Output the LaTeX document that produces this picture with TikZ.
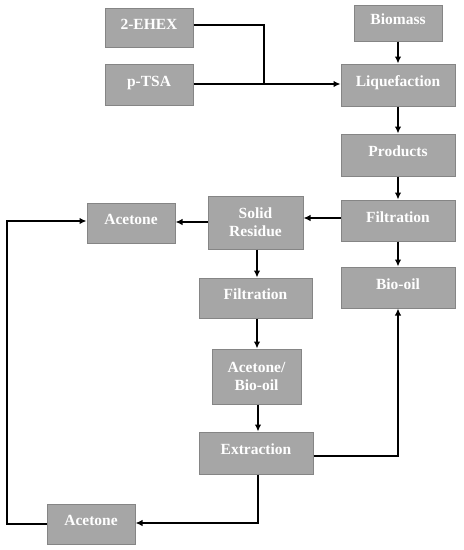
\documentclass[tikz,border=0pt]{standalone}
\usepackage{fontspec}
\setmainfont{Liberation Serif}
\usetikzlibrary{arrows.meta}
\definecolor{boxfill}{HTML}{A6A6A6}
\definecolor{boxline}{HTML}{858585}
\begin{document}
\begin{tikzpicture}[x=1pt,y=-1pt,
  box/.style={draw=boxline,fill=boxfill,line width=1pt,text=white,font=\bfseries\fontsize{15.5}{18}\selectfont,align=center,inner sep=0pt},
  one/.style={box,text height=10pt,text depth=7pt},
  conn/.style={line width=1.4pt,black},
  arr/.style={conn,-{Latex[length=7pt,width=6.5pt]}}]
\useasboundingbox (0,0) rectangle (464,550);
\node[one,minimum width=88,minimum height=39] (ehex) at (149,28) {2-EHEX};
\node[one,minimum width=88,minimum height=41] (ptsa) at (149,84.5) {p-TSA};
\node[one,minimum width=88,minimum height=36] (bio) at (398,23) {Biomass};
\node[one,minimum width=114,minimum height=42] (liq) at (398,85) {Liquefaction};
\node[one,minimum width=114,minimum height=42] (prod) at (398,155) {Products};
\node[one,minimum width=114,minimum height=41] (filtr) at (398,220.5) {Filtration};
\node[one,minimum width=114,minimum height=41] (biooil) at (398,287.5) {Bio-oil};
\node[box,minimum width=95,minimum height=53] (solid) at (255.5,222.5) {Solid\\Residue};
\node[one,minimum width=88,minimum height=40] (acet1) at (131,223) {Acetone};
\node[one,minimum width=113,minimum height=40] (filtm) at (255.5,298) {Filtration};
\node[box,minimum width=89,minimum height=55] (abo) at (256.5,376.5) {Acetone/\\Bio-oil};
\node[one,minimum width=114,minimum height=42] (ext) at (256,453) {Extraction};
\node[one,minimum width=88,minimum height=40] (acet2) at (91,524) {Acetone};
\coordinate (j) at (264,84);
\coordinate (l1) at (7,524);
\coordinate (l2) at (7,221);
\coordinate (e1) at (398,456);
\coordinate (e2) at (258,523);
\draw[conn] (ehex.east |- 0,25) -| (j);
\draw[arr] (ptsa.east |- j) -- (liq.west |- j);
\draw[arr] (bio.south) -- (liq.north);
\draw[arr] (liq.south) -- (prod.north);
\draw[arr] (prod.south) -- (filtr.north);
\draw[arr] (filtr.south) -- (biooil.north);
\draw[arr] (filtr.west |- 0,218) -- (solid.east |- 0,218);
\draw[arr] (solid.west |- 0,222) -- (acet1.east |- 0,222);
\draw[arr] (solid.south -| 257,0) -- (filtm.north -| 257,0);
\draw[arr] (filtm.south -| 257,0) -- (abo.north -| 257,0);
\draw[arr] (abo.south -| 258,0) -- (ext.north -| 258,0);
\draw[arr] (ext.east |- e1) -- (e1) -- (biooil.south);
\draw[arr] (ext.south -| e2) -- (e2) -- (acet2.east |- e2);
\draw[arr] (acet2.west) -- (l1) -- (l2) -- (acet1.west |- l2);
\end{tikzpicture}
\end{document}
